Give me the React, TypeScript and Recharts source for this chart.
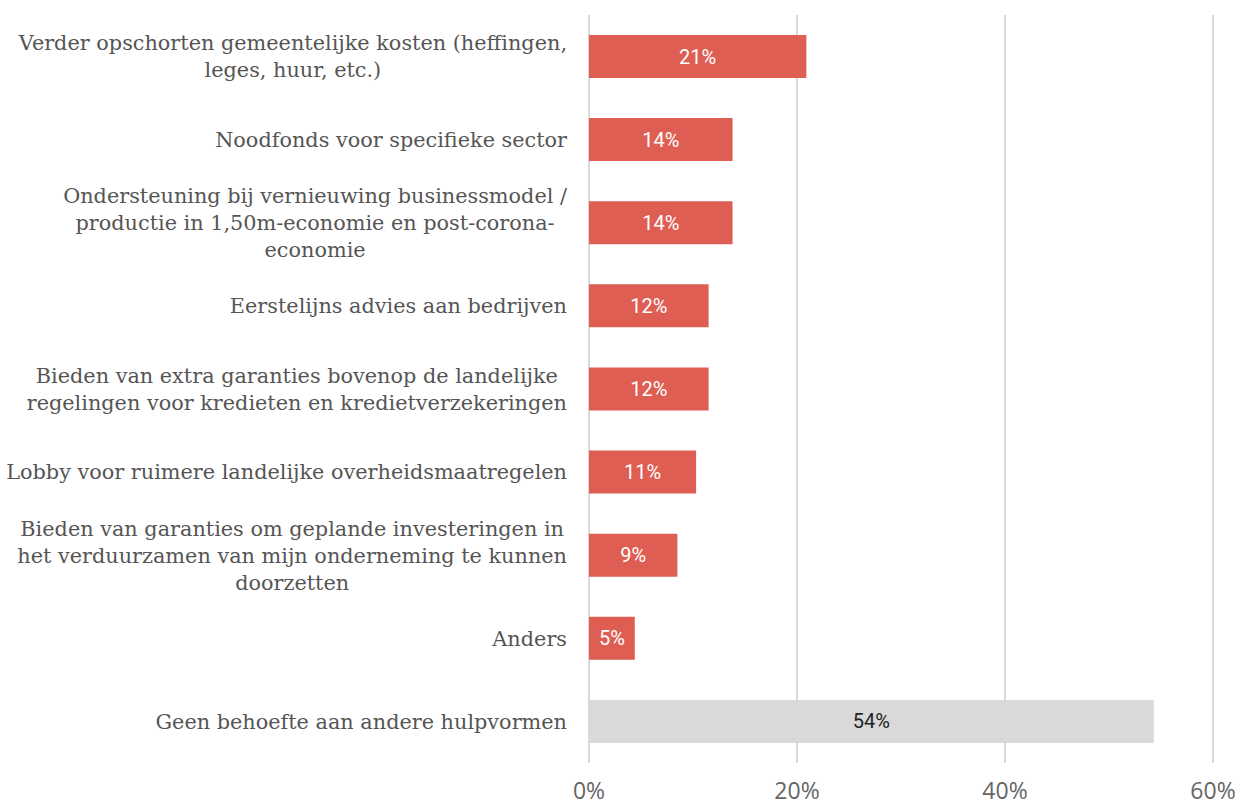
import React from 'react';
import { BarChart, Bar, XAxis, YAxis, CartesianGrid, Cell, LabelList } from 'recharts';

const categories = [
  ['Verder opschorten gemeentelijke kosten (heffingen,', 'leges, huur, etc.)'],
  ['Noodfonds voor specifieke sector'],
  ['Ondersteuning bij vernieuwing businessmodel /', 'productie in 1,50m-economie en post-corona-', 'economie'],
  ['Eerstelijns advies aan bedrijven'],
  ['Bieden van extra garanties bovenop de landelijke', 'regelingen voor kredieten en kredietverzekeringen'],
  ['Lobby voor ruimere landelijke overheidsmaatregelen'],
  ['Bieden van garanties om geplande investeringen in', 'het verduurzamen van mijn onderneming te kunnen', 'doorzetten'],
  ['Anders'],
  ['Geen behoefte aan andere hulpvormen'],
];
const values = [20.9, 13.8, 13.8, 11.5, 11.5, 10.3, 8.5, 4.4, 54.3];
const valueLabels = ['21%', '14%', '14%', '12%', '12%', '11%', '9%', '5%', '54%'];
const xTicks = [0, 20, 40, 60];

const RED = '#df5e53';
const GREY = '#d9d9d9';
const LABEL_FONT = '"DejaVu Serif", serif';
const LABEL_SIZE = 20.8;

const data = categories.map((lines, i) => ({
  name: lines.join(' '),
  value: values[i],
  label: valueLabels[i],
}));

let ctx: CanvasRenderingContext2D | null = null;
function measure(text: string): number {
  if (!ctx) ctx = document.createElement('canvas').getContext('2d');
  if (!ctx) return text.length * 11;
  ctx.font = `${LABEL_SIZE}px ${LABEL_FONT}`;
  return ctx.measureText(text).width;
}

// multi-line label, lines centred, block right-aligned against the axis
function CategoryTick(props: any) {
  const { x, y, payload, index } = props;
  const lines = categories[index] || [payload.value];
  const right = x - 14;
  const maxW = Math.max(...lines.map(measure));
  const cx = right - maxW / 2;
  const lh = 27;
  const startY = y - ((lines.length - 1) * lh) / 2;
  return (
    <text fill="#555" fontFamily={LABEL_FONT} fontSize={LABEL_SIZE} textAnchor="middle">
      {lines.map((l: string, i: number) => (
        <tspan key={i} x={cx} y={startY + i * lh} dy="0.35em">{l}</tspan>
      ))}
    </text>
  );
}

function BarValue(props: any) {
  const { x, y, width, height, value, index } = props;
  const last = index === categories.length - 1;
  return (
    <text x={x + width / 2} y={y + height / 2} dy="0.35em" textAnchor="middle"
      fill={last ? '#222' : '#fff'} fontFamily="Roboto, sans-serif" fontSize={20}>
      {value}
    </text>
  );
}

export default function App() {
  return (
    <div style={{ position: 'absolute', left: 0, top: 0 }}>
      <BarChart width={1243} height={806} data={data} layout="vertical"
        margin={{ top: 15, right: 30, bottom: 0, left: 0 }}>
        <CartesianGrid horizontal={false} stroke="#d9d9d9" strokeWidth={2} />
        <XAxis type="number" domain={[0, 60]} ticks={xTicks} tickFormatter={(v) => `${v}%`}
          axisLine={false} tickLine={false} height={43} tickMargin={14}
          tick={{ fill: '#666', fontSize: 23, fontFamily: '"Open Sans", sans-serif' }} />
        <YAxis type="category" dataKey="name" width={589} axisLine={false} tickLine={false}
          interval={0} tick={<CategoryTick />} />
        <Bar dataKey="value" barSize={43} isAnimationActive={false}>
          {data.map((_, i) => (
            <Cell key={i} fill={i === data.length - 1 ? GREY : RED} />
          ))}
          <LabelList dataKey="label" content={<BarValue />} />
        </Bar>
      </BarChart>
    </div>
  );
}
